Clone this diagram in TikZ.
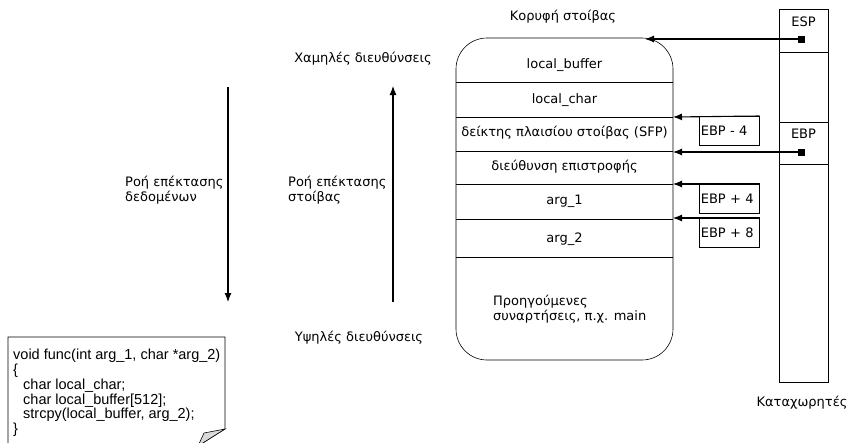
\documentclass[tikz,border=0pt]{standalone}
\usepackage{fontspec}
\setmainfont{DejaVu Sans}
\newfontfamily\codefont{Liberation Sans}
\usetikzlibrary{arrows.meta}
\begin{document}
\begin{tikzpicture}[x=1pt,y=-1pt,
  lbl/.style={font=\fontsize{13}{14.5}\selectfont, inner sep=0pt},
  conn/.style={line width=1.1pt, -{Latex[length=9pt,width=7pt]}},
  thin/.style={line width=0.6pt},
  offbox/.style={draw, thin, minimum width=60pt, minimum height=29pt, anchor=north west, inner sep=1pt, font=\fontsize{13}{14}\selectfont, text width=57pt, align=left},
  sq/.style={fill=black, minimum size=7pt, inner sep=0pt}]
\useasboundingbox (0,0) rectangle (848,442);
% titles
\node[lbl] (top) at (563,17) {Κορυφή στοίβας};
\node[lbl] (low) at (363,59) {Χαμηλές διευθύνσεις};
\node[lbl] (high) at (359,338) {Υψηλές διευθύνσεις};
\node[lbl] (regs) at (802,403) {Καταχωρητές};
% flow arrows
\coordinate (dtop) at (228,87);
\coordinate (dbot) at (228,302);
\draw[conn] (dtop) -- (dbot);
\coordinate (utop) at (393,86);
\coordinate (ubot) at (393,302);
\draw[conn] (ubot) -- (utop);
\node[lbl, anchor=west, align=left] (dflow) at (125,190) {Ροή επέκτασης\\δεδομένων};
\node[lbl, anchor=west, align=left] (sflow) at (288,190) {Ροή επέκτασης\\στοίβας};
% stack
\draw[thin, rounded corners=31pt] (456,38) rectangle (673,360);
\draw[thin] (456,82) -- (673,82);
\draw[thin] (456,117) -- (673,117);
\draw[thin] (456,151) -- (673,151);
\draw[thin] (456,184) -- (673,184);
\draw[thin] (456,219) -- (673,219);
\draw[thin] (456,257) -- (673,257);
\node[lbl] (lb) at (564.5,65) {local\_buffer};
\node[lbl] (lc) at (564.5,100) {local\_char};
\node[lbl] (sfp) at (564.5,133) {δείκτης πλαισίου στοίβας (SFP)};
\node[lbl] (ret) at (564.5,167) {διεύθυνση επιστροφής};
\node[lbl] (a1) at (564.5,201) {arg\_1};
\node[lbl] (a2) at (564.5,239) {arg\_2};
\node[lbl, anchor=west, align=left] (prev) at (493,309) {Προηγούμενες\\συναρτήσεις, π.χ. main};
\coordinate (stTop) at (645,39);
\coordinate (stSfp) at (673,117);
\coordinate (stRet) at (673,152);
\coordinate (stA1) at (673,184);
\coordinate (stA2) at (673,218);
% registers
\draw[thin] (779,9) rectangle (828,382);
\draw[thin] (779,52) -- (828,52);
\draw[thin] (779,122) -- (828,122);
\draw[thin] (779,164) -- (828,164);
\node[lbl] (esp) at (803.5,22) {ESP};
\node[lbl] (ebp) at (803.5,134) {EBP};
\node[sq] (espsq) at (801,39) {};
\node[sq] (ebpsq) at (801,152) {};
\draw[conn] (espsq.center) -- (stTop);
\draw[conn] (ebpsq.center) -- (stRet);
% offset boxes
\node[offbox] (m4) at (699,116) {EBP - 4};
\node[offbox] (p4) at (699,184) {EBP + 4};
\node[offbox] (p8) at (699,218) {EBP + 8};
\draw[conn] (m4.north east) -- (stSfp);
\draw[conn] (p4.north east) -- (stA1);
\draw[conn] (p8.north east) -- (stA2);
% code note
\draw[thin, fill=white] (8,446) -- (8,337) -- (225,337) -- (225,429) -- (198,446);
\draw[thin, fill=black!15] (225,429) -- (204,433) -- (198,446) -- cycle;
\node[anchor=north west, inner sep=0pt, align=left, font=\codefont\fontsize{14.5}{14.8}\selectfont] (code) at (13,349)
{void func(int arg\_1, char *arg\_2)\\
\{\\
\hspace*{10pt}char local\_char;\\
\hspace*{10pt}char local\_buffer[512];\\
\hspace*{10pt}strcpy(local\_buffer, arg\_2);\\
\}};
\end{tikzpicture}
\end{document}
